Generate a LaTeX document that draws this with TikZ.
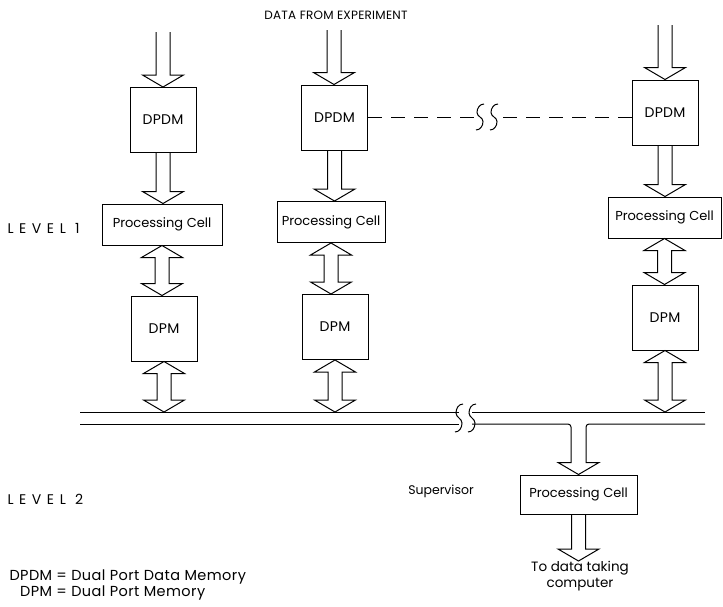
\documentclass[tikz,border=0pt]{standalone}
\usepackage{fontspec}
\setmainfont{Poppins}
\newfontfamily\wideff[LetterSpace=2]{Poppins}
\newfontfamily\vwideff[LetterSpace=40]{Poppins}
\newfontfamily\legff[LetterSpace=3]{Poppins}
\usetikzlibrary{calc}
\newcommand\fatdown[2]{\draw let \p1=#1, \p2=#2 in (\x1-7pt,\y1) -- (\x1-7pt,\y2+12pt) -- (\x1-20.5pt,\y2+12pt) -- (\x1,\y2) -- (\x1+20.5pt,\y2+12pt) -- (\x1+7pt,\y2+12pt) -- (\x1+7pt,\y1);}
\newcommand\fatboth[2]{\draw let \p1=#1, \p2=#2 in (\x1,\y1) -- (\x1-20.5pt,\y1-12pt) -- (\x1-7pt,\y1-12pt) -- (\x1-7pt,\y2+12pt) -- (\x1-20.5pt,\y2+12pt) -- (\x1,\y2) -- (\x1+20.5pt,\y2+12pt) -- (\x1+7pt,\y2+12pt) -- (\x1+7pt,\y1-12pt) -- (\x1+20.5pt,\y1-12pt) -- cycle;}
\newcommand\sbreak[3]{\draw (#1+4,#2-#3) to[out=180,in=90] (#1-3,#2-#3/2+2) to[out=270,in=90] (#1+3,#2+#3/2-2) to[out=270,in=0] (#1-4,#2+#3);}
\begin{document}
\begin{tikzpicture}[x=1pt,y=-1pt,line width=1pt,
  mem/.style={draw,inner sep=0pt,minimum width=66pt,minimum height=65pt,font=\wideff\fontsize{14}{15}\selectfont},
  cell/.style={draw,inner sep=0pt,minimum height=41pt,font=\fontsize{13}{14}\selectfont},
  lbl/.style={inner sep=0pt,font=\fontsize{12.5}{15}\selectfont},
  lev/.style={inner sep=0pt,anchor=west,font=\vwideff\fontsize{14}{15}\selectfont}]
\useasboundingbox (0,0) rectangle (723,606);
% title
\node[inner sep=0pt,font=\wideff\fontsize{12}{13}\selectfont] (title) at (336,15) {DATA FROM EXPERIMENT};
% column 1
\coordinate (in1) at (163,32);
\node[mem] (d1) at (163,120) {DPDM};
\node[cell,minimum width=120pt] (p1) at (162,224.5) {Processing Cell};
\node[mem] (m1) at (164,328.5) {DPM};
\coordinate (b1) at (164,412);
% column 2
\coordinate (in2) at (334,30);
\node[mem] (d2) at (334.5,117.5) {DPDM};
\node[cell,minimum width=108pt] (p2) at (331,222) {Processing Cell};
\node[mem] (m2) at (335,327) {DPM};
\coordinate (b2) at (335,412);
% column 3
\coordinate (in3) at (665,25);
\node[mem] (d3) at (665,112.5) {DPDM};
\node[cell,minimum width=113pt] (p3) at (664.5,217.5) {Processing Cell};
\node[mem] (m3) at (665,317.5) {DPM};
\coordinate (b3) at (665,412);
% arrows
\fatdown{(in1)}{(d1.north)}
\fatdown{(d1.south)}{(p1.north)}
\fatboth{(p1.south)}{(m1.north)}
\fatboth{(m1.south)}{(b1)}
\fatdown{(in2)}{(d2.north)}
\fatdown{(d2.south)}{(p2.north)}
\fatboth{(p2.south)}{(m2.north)}
\fatboth{(m2.south)}{(b2)}
\fatdown{(in3)}{(d3.north)}
\fatdown{(d3.south)}{(p3.north)}
\fatboth{(p3.south)}{(m3.north)}
\fatboth{(m3.south)}{(b3)}
% dashed link
\draw[dash pattern=on 14pt off 9pt] (d2.east) -- (480,117.5);
\draw[dash pattern=on 14pt off 9pt] (d3.west |- d2.east) -- (494,117.5);
\sbreak{480}{117}{13}
\sbreak{494}{117}{13}
% levels
\node[lev] (lev1) at (7,228) {LEVEL 1};
\node[lev] (lev2) at (7,499) {LEVEL 2};
% bus
\draw (80,412) -- (459,412);
\draw (472,412) -- (705,412);
\draw (80,424) -- (459,424);
\sbreak{459}{418}{14}
\sbreak{472}{418}{14}
% supervisor
\node[cell,minimum width=117pt,minimum height=39pt] (s) at (578.5,494.5) {Processing Cell};
\coordinate (out) at (578.5,561);
\draw let \p1=(s.north) in (472,424) [rounded corners=3pt]-- (571,424) -- (571,\y1+20pt) [sharp corners]-- (571,\y1+12pt) -- (\x1-20.5pt,\y1+12pt) -- (\x1,\y1) -- (\x1+20.5pt,\y1+12pt) -- (586,\y1+12pt) -- (586,\y1+20pt) [rounded corners=3pt]-- (586,424) -- (705,424);
\fatdown{(s.south)}{(out)}
\node[lbl] (sup) at (441,491) {Supervisor};
\node[lbl,align=center,anchor=north,font=\fontsize{13.5}{16}\selectfont] (tdc) at (580,561) {To data taking\\computer};
% legend
\node[inner sep=0pt,anchor=north west,font=\legff\fontsize{14.5}{16}\selectfont] (leg) at (9,569) {\begin{tabular}{@{}r@{ = }l@{}}DPDM & Dual Port Data Memory\\ DPM & Dual Port Memory\end{tabular}};
\end{tikzpicture}
\end{document}
